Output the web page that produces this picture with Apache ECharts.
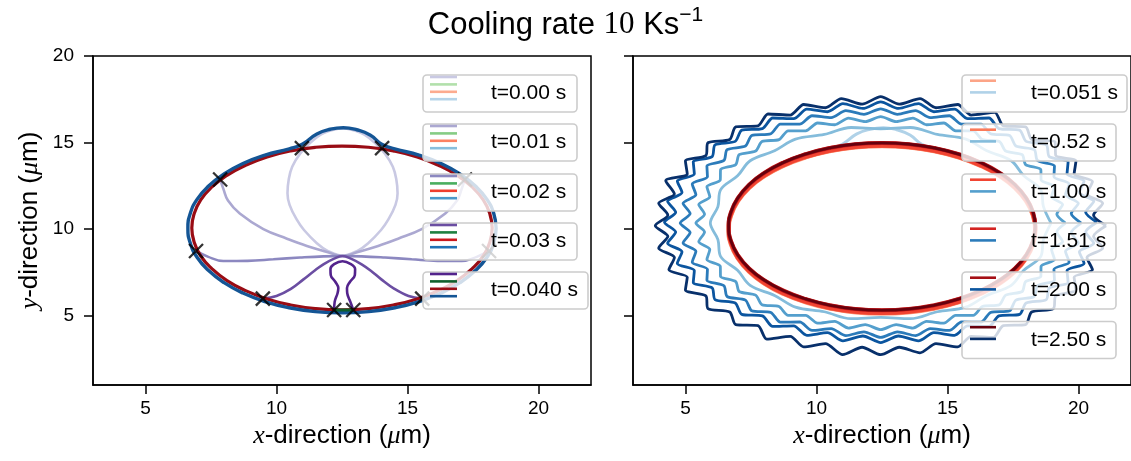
<!DOCTYPE html>
<html><head><meta charset="utf-8">
<script src="https://cdn.jsdelivr.net/npm/echarts@6/dist/echarts.min.js"></script>
<style>html,body{margin:0;padding:0;background:#fff}#c{width:1131px;height:461px}</style>
</head><body><div id="c"></div>
<script>
// ---------- tick values ----------
const X_TICKS = [5, 10, 15, 20];
const Y_TICKS = [5, 10, 15, 20];

// ---------- left panel (t = 0.00 ... 0.040 s) ----------
const LEFT_LABELS = ['t=0.00 s', 't=0.01 s', 't=0.02 s', 't=0.03 s', 't=0.040 s'];
const PURPLES = ['#c9c9e3', '#aba8d1', '#8c88c0', '#6b4ea2', '#53238c'];
const GREENS  = ['#b2e0ab', '#86cc85', '#4aae5f', '#1e8040', '#0f5f2c'];
const REDS_L  = ['#fcab8f', '#fc8161', '#ef3e2e', '#c9181d', '#990c14'];
const BLUES_L = ['#b5d4e9', '#88bedc', '#4b98ca', '#2070b4', '#145595'];

const LEFT_RED = [[18.23,10.07],[18.14,10.89],[17.89,11.69],[17.46,12.44],[16.89,13.11],[16.18,13.69],[15.37,14.17],[14.46,14.52],[13.50,14.73],[12.50,14.80],[11.50,14.73],[10.54,14.52],[9.64,14.17],[8.82,13.69],[8.11,13.11],[7.54,12.44],[7.11,11.69],[6.86,10.89],[6.77,10.07],[6.86,9.25],[7.11,8.45],[7.54,7.71],[8.11,7.03],[8.82,6.45],[9.64,5.97],[10.54,5.62],[11.50,5.41],[12.50,5.34],[13.50,5.41],[14.46,5.62],[15.37,5.97],[16.18,6.45],[16.89,7.03],[17.46,7.71],[17.89,8.45],[18.14,9.25],[18.23,10.07]];
const LEFT_BLUE = [[18.38,10.05],[18.29,10.90],[18.03,11.72],[17.59,12.49],[17.00,13.19],[16.28,13.79],[15.44,14.28],[14.51,14.64],[14.0,14.92],[13.57,15.44],[13.06,15.74],[12.55,15.86],[12.05,15.77],[11.54,15.50],[11.0,14.92],[10.49,14.64],[9.56,14.28],[8.72,13.79],[8.00,13.19],[7.41,12.49],[6.97,11.72],[6.71,10.90],[6.62,10.05],[6.71,9.20],[6.97,8.38],[7.41,7.61],[8.00,6.91],[8.72,6.31],[9.56,5.82],[10.49,5.46],[11.48,5.24],[12.50,5.17],[13.52,5.24],[14.51,5.46],[15.44,5.82],[16.28,6.31],[17.00,6.91],[17.59,7.61],[18.03,8.38],[18.29,9.20],[18.38,10.05]];
const PURPLE_T000 = [[12.52,8.45],[11.95,8.75],[11.54,9.19],[11.05,9.95],[10.77,10.56],[10.50,11.40],[10.42,12.08],[10.47,12.90],[10.60,13.60],[10.90,14.35],[11.30,15.00],[11.80,15.55],[12.52,15.82],[13.24,15.55],[13.74,15.00],[14.14,14.35],[14.44,13.60],[14.57,12.90],[14.62,12.08],[14.54,11.40],[14.27,10.56],[13.99,9.95],[13.50,9.19],[13.09,8.75],[12.52,8.45]];
const PURPLE_T001 = [[7.85,12.87],[7.98,12.30],[8.15,11.65],[8.60,10.90],[9.50,10.00],[10.40,9.45],[11.16,9.03],[11.90,8.70],[12.52,8.45],[13.14,8.70],[13.88,9.03],[14.64,9.45],[15.54,10.00],[16.44,10.90],[16.89,11.65],[17.06,12.30],[17.19,12.87]];
const PURPLE_T002 = [[6.93,8.74],[7.40,8.40],[7.97,8.16],[8.90,8.17],[9.88,8.26],[10.90,8.36],[11.79,8.43],[12.52,8.45],[13.25,8.43],[14.14,8.36],[15.16,8.26],[16.14,8.17],[17.07,8.16],[17.64,8.40],[18.11,8.74]];
const PURPLE_T003 = [[9.48,5.99],[10.00,6.14],[10.55,6.55],[11.03,7.10],[11.45,7.60],[11.79,7.97],[12.20,8.30],[12.52,8.45],[12.84,8.30],[13.25,7.97],[13.60,7.60],[14.00,7.10],[14.50,6.55],[15.04,6.14],[15.56,5.99]];
const PURPLE_T004 = [[12.20,5.33],[12.22,5.80],[12.33,6.30],[12.36,6.60],[12.25,6.95],[12.07,7.35],[12.06,7.70],[12.20,7.98],[12.52,8.15],[12.84,7.98],[13.00,7.70],[12.99,7.35],[12.80,6.95],[12.69,6.60],[12.70,6.30],[12.82,5.80],[12.93,5.33]];
const GREEN_T004 = [[12.20,5.33],[12.93,5.33]];
const CROSSES = [[10.97,14.68],[14.03,14.68],[7.85,12.87],[17.19,12.87],[6.93,8.74],[18.11,8.74],[9.48,5.99],[15.56,5.99],[12.20,5.33],[12.93,5.33]];

// ---------- right panel (t = 0.051 ... 2.50 s) ----------
const RIGHT_LABELS = ['t=0.051 s', 't=0.52 s', 't=1.00 s', 't=1.51 s', 't=2.00 s', 't=2.50 s'];
const REDS_R  = ['#fca487', '#fb7b5b', '#f14432', '#d42422', '#a50f15', '#67000d'];
const BLUES_R = ['#b0d2e8', '#84bcdb', '#549fcd', '#2b7bba', '#0b559f', '#08306b'];

const RIGHT_RED_EARLY = [[18.35,9.97],[18.26,10.81],[18.00,11.62],[17.57,12.39],[16.98,13.08],[16.26,13.67],[15.43,14.15],[14.50,14.51],[13.52,14.73],[12.50,14.80],[11.48,14.73],[10.50,14.51],[9.58,14.15],[8.74,13.67],[8.02,13.08],[7.43,12.39],[7.00,11.62],[6.74,10.81],[6.65,9.97],[6.74,9.13],[7.00,8.32],[7.43,7.55],[8.02,6.86],[8.74,6.27],[9.58,5.79],[10.50,5.43],[11.48,5.21],[12.50,5.14],[13.52,5.21],[14.50,5.43],[15.43,5.79],[16.26,6.27],[16.98,6.86],[17.57,7.55],[18.00,8.32],[18.26,9.13],[18.35,9.97]];
const RIGHT_RED_LATE = [[18.35,10.15],[18.26,10.99],[18.00,11.80],[17.57,12.57],[16.98,13.26],[16.26,13.85],[15.43,14.33],[14.50,14.69],[13.52,14.91],[12.50,14.98],[11.48,14.91],[10.50,14.69],[9.58,14.33],[8.74,13.85],[8.02,13.26],[7.43,12.57],[7.00,11.80],[6.74,10.99],[6.65,10.15],[6.74,9.31],[7.00,8.50],[7.43,7.73],[8.02,7.04],[8.74,6.45],[9.58,5.97],[10.50,5.61],[11.48,5.39],[12.50,5.32],[13.52,5.39],[14.50,5.61],[15.43,5.97],[16.26,6.45],[16.98,7.04],[17.57,7.73],[18.00,8.50],[18.26,9.31],[18.35,10.15]];
const BLUE_T0051 = LEFT_BLUE;
const BLUE_T052 = [[18.95,10.35],[18.66,11.30],[18.56,12.27],[17.91,13.08],[17.43,13.95],[16.50,14.53],[15.70,15.20],[14.61,15.47],[13.58,15.87],[12.45,15.80],[11.32,15.87],[10.30,15.47],[9.20,15.20],[8.40,14.53],[7.47,13.95],[6.99,13.08],[6.34,12.27],[6.24,11.30],[5.95,10.35],[6.24,9.40],[6.34,8.43],[6.99,7.62],[7.47,6.75],[8.40,6.17],[9.20,5.50],[10.30,5.23],[11.32,4.83],[12.45,4.90],[13.58,4.83],[14.61,5.23],[15.70,5.50],[16.50,6.17],[17.43,6.75],[17.91,7.62],[18.56,8.43],[18.66,9.40],[18.95,10.35]];
const BLUE_T100 = [[19.50,10.35],[19.17,10.86],[19.39,11.42],[18.97,11.87],[19.08,12.45],[18.57,12.84],[18.56,13.43],[17.98,13.73],[17.85,14.30],[17.22,14.51],[16.98,15.06],[16.33,15.17],[15.98,15.68],[15.31,15.68],[14.86,16.13],[14.20,16.03],[13.68,16.41],[13.04,16.21],[12.45,16.50],[11.86,16.21],[11.22,16.41],[10.70,16.03],[10.04,16.13],[9.59,15.68],[8.92,15.68],[8.57,15.17],[7.92,15.06],[7.68,14.51],[7.05,14.30],[6.92,13.73],[6.34,13.43],[6.33,12.84],[5.82,12.45],[5.93,11.87],[5.51,11.42],[5.73,10.86],[5.40,10.35],[5.73,9.84],[5.51,9.28],[5.93,8.83],[5.82,8.25],[6.33,7.86],[6.34,7.27],[6.92,6.97],[7.05,6.40],[7.68,6.19],[7.92,5.64],[8.57,5.53],[8.92,5.02],[9.59,5.02],[10.04,4.57],[10.70,4.67],[11.22,4.29],[11.86,4.49],[12.45,4.20],[13.04,4.49],[13.68,4.29],[14.20,4.67],[14.86,4.57],[15.31,5.02],[15.98,5.02],[16.33,5.53],[16.98,5.64],[17.22,6.19],[17.85,6.40],[17.98,6.97],[18.56,7.27],[18.57,7.86],[19.08,8.25],[18.97,8.83],[19.39,9.28],[19.17,9.84],[19.50,10.35]];
const BLUE_T151 = [[20.10,10.35],[19.72,10.90],[19.99,11.50],[19.50,11.98],[19.64,12.61],[19.06,13.02],[19.08,13.65],[18.43,13.97],[18.31,14.59],[17.61,14.80],[17.37,15.41],[16.64,15.51],[16.28,16.07],[15.54,16.06],[15.07,16.55],[14.34,16.44],[13.78,16.85],[13.09,16.63],[12.45,16.95],[11.81,16.63],[11.12,16.85],[10.56,16.44],[9.83,16.55],[9.36,16.06],[8.62,16.07],[8.26,15.51],[7.53,15.41],[7.29,14.80],[6.59,14.59],[6.47,13.97],[5.82,13.65],[5.84,13.02],[5.26,12.61],[5.40,11.98],[4.91,11.50],[5.18,10.90],[4.80,10.35],[5.18,9.80],[4.91,9.20],[5.40,8.72],[5.26,8.09],[5.84,7.68],[5.82,7.05],[6.47,6.73],[6.59,6.11],[7.29,5.90],[7.53,5.29],[8.26,5.19],[8.62,4.63],[9.36,4.64],[9.83,4.15],[10.56,4.26],[11.12,3.85],[11.81,4.07],[12.45,3.75],[13.09,4.07],[13.78,3.85],[14.34,4.26],[15.07,4.15],[15.54,4.64],[16.28,4.63],[16.64,5.19],[17.37,5.29],[17.61,5.90],[18.31,6.11],[18.43,6.73],[19.08,7.05],[19.06,7.68],[19.64,8.09],[19.50,8.72],[19.99,9.20],[19.72,9.80],[20.10,10.35]];
const BLUE_T200 = [[20.70,10.40],[20.27,10.97],[20.58,11.61],[20.03,12.11],[20.21,12.78],[19.56,13.19],[19.60,13.88],[18.88,14.19],[18.77,14.87],[18.00,15.07],[17.75,15.72],[16.96,15.81],[16.58,16.42],[15.77,16.38],[15.27,16.93],[14.48,16.78],[13.89,17.25],[13.13,16.97],[12.45,17.35],[11.77,16.97],[11.01,17.25],[10.42,16.78],[9.63,16.93],[9.13,16.38],[8.33,16.42],[7.94,15.81],[7.15,15.72],[6.90,15.07],[6.13,14.87],[6.02,14.19],[5.30,13.88],[5.34,13.19],[4.69,12.78],[4.87,12.11],[4.32,11.61],[4.63,10.97],[4.20,10.40],[4.63,9.83],[4.32,9.19],[4.87,8.69],[4.69,8.02],[5.34,7.61],[5.30,6.92],[6.02,6.61],[6.13,5.93],[6.90,5.73],[7.15,5.08],[7.94,4.99],[8.33,4.38],[9.13,4.42],[9.63,3.87],[10.42,4.02],[11.01,3.55],[11.77,3.83],[12.45,3.45],[13.13,3.83],[13.89,3.55],[14.48,4.02],[15.27,3.87],[15.77,4.42],[16.58,4.38],[16.96,4.99],[17.75,5.08],[18.00,5.73],[18.77,5.93],[18.88,6.61],[19.60,6.92],[19.56,7.61],[20.21,8.02],[20.03,8.69],[20.58,9.19],[20.27,9.83],[20.70,10.40]];
const BLUE_T250 = [[21.05,10.20],[20.57,10.81],[20.92,11.50],[20.32,12.03],[20.53,12.75],[19.83,13.18],[19.90,13.93],[19.13,14.25],[19.10,15.05],[18.21,15.18],[17.98,15.91],[17.13,15.97],[16.80,16.75],[15.90,16.59],[15.39,17.20],[14.56,17.01],[13.95,17.54],[13.16,17.22],[12.45,17.65],[11.74,17.22],[10.95,17.54],[10.34,17.01],[9.51,17.20],[9.00,16.59],[8.15,16.65],[7.77,15.97],[6.92,15.91],[6.69,15.18],[5.86,14.99],[5.78,14.25],[5.00,13.93],[5.07,13.18],[4.25,12.80],[4.58,12.03],[3.98,11.50],[4.33,10.81],[3.85,10.20],[4.33,9.59],[3.98,8.90],[4.58,8.37],[4.37,7.65],[5.07,7.22],[5.00,6.48],[5.78,6.15],[5.86,5.41],[6.69,5.22],[6.92,4.49],[7.77,4.43],[8.10,3.65],[9.00,3.81],[9.51,3.20],[10.34,3.39],[11.00,2.75],[11.74,3.18],[12.45,2.75],[13.16,3.18],[13.95,2.86],[14.56,3.39],[15.39,3.20],[15.90,3.81],[16.75,3.75],[17.13,4.43],[17.98,4.49],[18.21,5.22],[19.04,5.41],[19.13,6.15],[19.90,6.48],[19.83,7.22],[20.53,7.65],[20.32,8.37],[20.92,8.90],[20.57,9.59],[21.05,10.20]];

// ---------- build ----------
const FONT = 'Liberation Sans';
const SERIF = 'Liberation Serif';

function xAxisCfg(gi) {
  return {
    type: 'value', gridIndex: gi, min: 3, max: 22,
    axisLine: { show: true, lineStyle: { color: '#000', width: 1.5 } },
    axisTick: { show: true, customValues: X_TICKS, length: 9, lineStyle: { color: '#000', width: 1.5 } },
    axisLabel: { customValues: X_TICKS, fontSize: 19, color: '#000', fontFamily: FONT, margin: 14 },
    splitLine: { show: false },
    name: '{i|x}-direction ({i|\u03bc}m)', nameLocation: 'middle', nameGap: 37,
    nameTextStyle: { fontSize: 26, fontFamily: FONT, color: '#000',
      rich: { i: { fontSize: 26, fontFamily: SERIF, fontStyle: 'italic', color: '#000' } } }
  };
}
function yAxisCfg(gi, showLabels) {
  const c = {
    type: 'value', gridIndex: gi, min: 1, max: 20,
    axisLine: { show: true, lineStyle: { color: '#000', width: 1.5 } },
    axisTick: { show: true, customValues: Y_TICKS, length: 9, lineStyle: { color: '#000', width: 1.5 } },
    axisLabel: { show: showLabels, customValues: Y_TICKS, fontSize: 19, color: '#000', fontFamily: FONT, margin: 19 },
    splitLine: { show: false }
  };
  if (showLabels) {
    Object.assign(c, {
      name: '{i|y}-direction ({i|\u03bc}m)', nameLocation: 'middle', nameGap: 50, nameRotate: 90,
      nameTextStyle: { fontSize: 26, fontFamily: FONT, color: '#000',
        rich: { i: { fontSize: 26, fontFamily: SERIF, fontStyle: 'italic', color: '#000' } } }
    });
  }
  return c;
}
function line(gi, data, color, width, smooth, z) {
  return { type: 'line', xAxisIndex: gi, yAxisIndex: gi, data: data, showSymbol: false, symbol: 'none',
    smooth: smooth, lineStyle: { color: color, width: width }, z: z || 2, silent: true };
}

const series = [
  line(0, PURPLE_T000, PURPLES[0], 2.6, 0.4, 2),
  line(0, PURPLE_T001, PURPLES[1], 2.6, 0.4, 2),
  line(0, PURPLE_T002, PURPLES[2], 2.6, 0.4, 2),
  line(0, PURPLE_T003, PURPLES[3], 2.6, 0.4, 2),
  line(0, PURPLE_T004, PURPLES[4], 2.6, 0.4, 2),
  line(0, LEFT_RED, REDS_L[4], 3.2, 0.5, 3),
  line(0, LEFT_BLUE, BLUES_L[4], 3.4, 0.5, 4),
  line(0, GREEN_T004, GREENS[4], 3, false, 5),
  { type: 'scatter', xAxisIndex: 0, yAxisIndex: 0, data: CROSSES, z: 6, silent: true,
    symbol: 'path://M0,0L10,10M10,0L0,10', symbolSize: 14,
    itemStyle: { color: 'rgba(0,0,0,0)', borderColor: '#000', borderWidth: 2.3 } },
  line(1, BLUE_T0051, BLUES_R[0], 3, 0.5, 2),
  line(1, BLUE_T052, BLUES_R[1], 2.8, 0.35, 2),
  line(1, BLUE_T100, BLUES_R[2], 2.8, 0.25, 2),
  line(1, BLUE_T151, BLUES_R[3], 2.8, 0.25, 2),
  line(1, BLUE_T200, BLUES_R[4], 2.8, 0.25, 2),
  line(1, BLUE_T250, BLUES_R[5], 2.8, 0.25, 2),
  line(1, RIGHT_RED_EARLY, REDS_R[0], 4.6, 0.5, 3),
  line(1, RIGHT_RED_EARLY, REDS_R[1], 4, 0.5, 3),
  line(1, RIGHT_RED_EARLY, REDS_R[2], 3.4, 0.5, 3),
  line(1, RIGHT_RED_LATE, REDS_R[3], 4, 0.5, 3),
  line(1, RIGHT_RED_LATE, REDS_R[4], 3.3, 0.5, 3),
  line(1, RIGHT_RED_LATE, REDS_R[5], 2.6, 0.5, 3)
];

// legends (decoration drawn as graphics)
const graphics = [];
function legendBox(x, y, w, h, handles, label, textX) {
  graphics.push({ type: 'rect', z: 100, shape: { x: x, y: y, width: w, height: h, r: 4 },
    style: { fill: 'rgba(255,255,255,0.8)', stroke: '#cccccc', lineWidth: 1.6 } });
  handles.forEach(function (hd) {
    graphics.push({ type: 'line', z: 101, shape: { x1: hd.x1, y1: y + hd.dy, x2: hd.x2, y2: y + hd.dy },
      style: { stroke: hd.color, lineWidth: 2.6 } });
  });
  graphics.push({ type: 'text', z: 101, x: textX, y: y + h / 2,
    style: { text: label, fontSize: 21, fontFamily: FONT, fill: '#000', verticalAlign: 'middle', align: 'left' } });
}
const LEFT_TOPS = [75, 124, 174, 223, 272];
LEFT_LABELS.forEach(function (lab, i) {
  const w = i === 4 ? 165 : 154;
  legendBox(423, LEFT_TOPS[i], w, 37, [
    { x1: 430, x2: 457, dy: 2, color: PURPLES[i] },
    { x1: 430, x2: 457, dy: 9.4, color: GREENS[i] },
    { x1: 430, x2: 457, dy: 16.8, color: REDS_L[i] },
    { x1: 430, x2: 457, dy: 24.2, color: BLUES_L[i] }
  ], lab, 491);
});
const RIGHT_TOPS = [75, 124, 174, 223, 272, 321.5];
RIGHT_LABELS.forEach(function (lab, i) {
  const w = i === 0 ? 165 : 154;
  legendBox(962, RIGHT_TOPS[i], w, 37, [
    { x1: 970, x2: 996, dy: 5.7, color: REDS_R[i] },
    { x1: 970, x2: 996, dy: 17.4, color: BLUES_R[i] }
  ], lab, 1031);
});

const chart = echarts.init(document.getElementById('c'), null, { renderer: 'canvas' });
chart.setOption({
  animation: false,
  backgroundColor: '#fff',
  title: {
    text: 'Cooling rate {m|10} Ks{s|\u22121}', left: 'center', top: 0,
    textStyle: { fontSize: 31, lineHeight: 40, fontFamily: FONT, fontWeight: 'normal', color: '#000',
      rich: { m: { fontSize: 31, lineHeight: 40, fontFamily: SERIF, color: '#000' },
              s: { fontSize: 21, lineHeight: 22, fontFamily: FONT, color: '#000', verticalAlign: 'top' } } }
  },
  grid: [
    { left: 93, top: 56, width: 498, height: 329, show: true, borderColor: '#000', borderWidth: 1.5, backgroundColor: 'transparent' },
    { left: 633, top: 56, width: 498, height: 329, show: true, borderColor: '#000', borderWidth: 1.5, backgroundColor: 'transparent' }
  ],
  xAxis: [xAxisCfg(0), xAxisCfg(1)],
  yAxis: [yAxisCfg(0, true), yAxisCfg(1, false)],
  series: series,
  graphic: graphics
});
</script></body></html>
